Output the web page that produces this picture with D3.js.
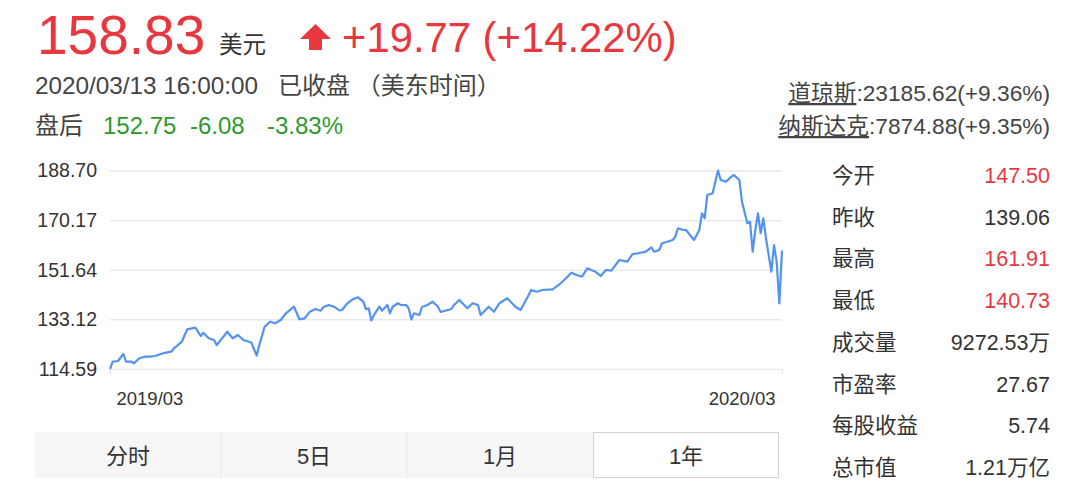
<!DOCTYPE html>
<html><head><meta charset="utf-8">
<script src="https://cdn.jsdelivr.net/npm/d3@7"></script>
<style>
html,body{margin:0;padding:0;background:#fff;}
svg{display:block;font-family:"Liberation Sans",Arial,"Noto Sans CJK SC",sans-serif;}
</style></head><body>
<svg id="c" width="1080" height="497"></svg>
<script>
// ---- data ----
const days = [0,1,3,5,6,8,9,11,13,15,17,19,21,23,24,27,28,29,32,33,
  34,35,37,39,40,41,44,46,48,50,53,55,56,58,60,62,64,66,69,71,
  73,75,77,79,80,82,84,86,87,89,91,93,95,96,97,98,99,101,102,104,
  105,106,108,109,111,112,113,114,116,117,119,121,123,124,128,129,131,134,136,138,
  139,142,144,146,149,152,154,156,158,160,162,166,169,171,173,175,177,179,182,184,
  186,188,191,194,196,198,201,203,204,206,207,209,211,212,213,215,216,219,221,222,
  223,224,226,227,228,229,231,233,234,236,237,239,240,241,242,243,244,245,246,248,
  249,250,251,252];
const prices = [114.59,117.32,117.58,120.19,117.32,117.32,116.72,118.59,119.18,119.18,119.44,120.19,120.68,121.05,122.32,124.78,127.29,129.41,130.01,128.52,
  126.91,128.14,126.05,125.42,123.55,124.78,128.52,126.05,127.29,125.42,124.49,119.63,123.55,130.38,132.25,131.65,132.89,135.39,137.85,133.15,
  133.52,135.99,136.99,136.36,137.63,138.49,137.85,136.51,136.62,139.12,140.62,141.36,139.72,136.88,137.26,132.70,134.75,137.85,136.36,138.49,
  135.39,137.85,139.12,138.49,138.49,137.26,133.07,135.39,134.75,137.74,138.49,139.72,137.85,135.87,136.99,138.49,140.35,137.26,139.12,138.49,
  134.75,137.85,135.99,139.12,140.99,137.85,136.62,140.35,144.09,143.45,144.09,144.35,146.59,148.46,150.55,149.69,149.06,152.19,150.92,149.32,
  151.56,151.30,155.29,154.66,157.53,157.79,158.39,160.03,158.39,159.02,161.53,162.12,162.76,163.99,167.13,166.49,166.49,162.76,166.49,172.73,
  170.86,179.56,180.20,184.53,188.70,185.16,184.53,186.39,187.03,185.16,177.06,168.99,169.59,158.39,166.49,172.73,165.26,170.86,163.39,150.92,
  160.89,154.66,139.06,158.83];
const yTicks = [114.59,133.12,151.64,170.17,188.70];
const xTickDays = [0,252];
const xTickLabels = ["2019/03","2020/03"];
const statLabels = ["今开","昨收","最高","最低","成交量","市盈率","每股收益","总市值"];
const statValues = ["147.50","139.06","161.91","140.73","9272.53万","27.67","5.74","1.21万亿"];
const statRed = [true,false,true,true,false,false,false,false];
const tabs = ["分时","5日","1月","1年"];
const indices = [{name:"道琼斯",val:":23185.62(+9.36%)"},{name:"纳斯达克",val:":7874.88(+9.35%)"}];

const RED = "#e8383f", GREEN = "#2c9a2c", TXT = "#333";
const svg = d3.select("#c");
svg.append("rect").attr("width",1080).attr("height",497).attr("fill","#fff");

// ---- header ----
const hdr = svg.append("g");
hdr.append("text").attr("x",37).attr("y",54).attr("font-size",55).attr("fill",RED).text("158.83");
hdr.append("text").attr("x",219).attr("y",53).attr("font-size",23.5).attr("fill",TXT).text("美元");
hdr.append("path").attr("d","M300,39 L315.5,24 L331,39 L322,39 L322,50 L309,50 L309,39 Z").attr("fill",RED);
hdr.append("text").attr("x",342).attr("y",52).attr("font-size",41.8).attr("fill",RED).text("+19.77 (+14.22%)");
hdr.append("text").attr("x",35).attr("y",94).attr("font-size",24.3).attr("fill","#444").text("2020/03/13 16:00:00");
hdr.append("text").attr("x",278).attr("y",94).attr("font-size",24).attr("fill","#444").text("已收盘 （美东时间）");
hdr.append("text").attr("x",35).attr("y",134).attr("font-size",24).attr("fill","#444").text("盘后");
hdr.append("text").attr("x",103).attr("y",134).attr("font-size",24).attr("fill",GREEN).text("152.75");
hdr.append("text").attr("x",190).attr("y",134).attr("font-size",24).attr("fill",GREEN).text("-6.08");
hdr.append("text").attr("x",267).attr("y",134).attr("font-size",24).attr("fill",GREEN).text("-3.83%");

// index lines (right aligned)
indices.forEach((d,i)=>{
  const yb = 101 + i*33;
  const t = svg.append("text").attr("x",1050).attr("y",yb).attr("font-size",22.7).attr("fill","#444").attr("text-anchor","end");
  t.append("tspan").attr("text-decoration","underline").text(d.name);
  t.append("tspan").text(d.val);
});

// ---- chart ----
const x = d3.scaleLinear().domain([0,252]).range([110,782]);
const y = d3.scaleLinear().domain([114.59,188.70]).range([369,170.5]);

const gy = svg.append("g").attr("transform","translate(110,0)")
  .call(d3.axisLeft(y).tickValues(yTicks).tickSize(-672).tickPadding(13).tickFormat(d3.format(".2f")));
gy.select(".domain").remove();
gy.selectAll(".tick line").attr("stroke","#e9e9e9").attr("stroke-width",1.5);
gy.selectAll(".tick text").attr("font-size",19.5).attr("fill",TXT).attr("font-family","Liberation Sans, Arial, sans-serif");

const gx = svg.append("g").attr("transform","translate(0,369)")
  .call(d3.axisBottom(x).tickValues(xTickDays).tickSize(5).tickPadding(18).tickFormat((d,i)=>xTickLabels[i]));
gx.select(".domain").remove();
gx.selectAll(".tick line").attr("stroke","#e4e4e4");
gx.selectAll(".tick text").attr("font-size",18.5).attr("fill",TXT).attr("font-family","Liberation Sans, Arial, sans-serif")
  .attr("text-anchor",(d,i)=> i===0 ? "start":"end").attr("dx",(d,i)=> i===0 ? 6 : -7);

const data = days.map((d,i)=>({day:d, price:prices[i]}));
svg.append("path").datum(data)
  .attr("fill","none").attr("stroke","#5393f0").attr("stroke-width",2.2).attr("stroke-linejoin","round")
  .attr("d", d3.line().x(d=>x(d.day)).y(d=>y(d.price)));

// ---- right stats ----
statLabels.forEach((lab,i)=>{
  const yb = 183 + i*41.7;
  svg.append("text").attr("x",832).attr("y",yb).attr("font-size",21.5).attr("fill",TXT).text(lab);
  svg.append("text").attr("x",1050).attr("y",yb).attr("font-size",21.5).attr("text-anchor","end")
    .attr("fill", statRed[i] ? RED : TXT).text(statValues[i]);
});

// ---- tabs ----
const tabX = d3.scaleBand().domain(tabs).range([35,779]);
svg.append("rect").attr("x",35).attr("y",432).attr("width",744).attr("height",46).attr("fill","#f6f6f6");
tabs.forEach((t,i)=>{
  if(i>0 && i<3) svg.append("line").attr("x1",tabX(t)).attr("x2",tabX(t)).attr("y1",432).attr("y2",478).attr("stroke","#e8e8e8");
  if(i===3) svg.append("rect").attr("x",tabX(t)+0.5).attr("y",432.5).attr("width",tabX.bandwidth()-1).attr("height",45)
      .attr("fill","#fff").attr("stroke","#d2d2d2");
  svg.append("text").attr("x",tabX(t)+tabX.bandwidth()/2).attr("y",464).attr("font-size",22).attr("text-anchor","middle")
    .attr("fill",TXT).text(t);
});
</script></body></html>
